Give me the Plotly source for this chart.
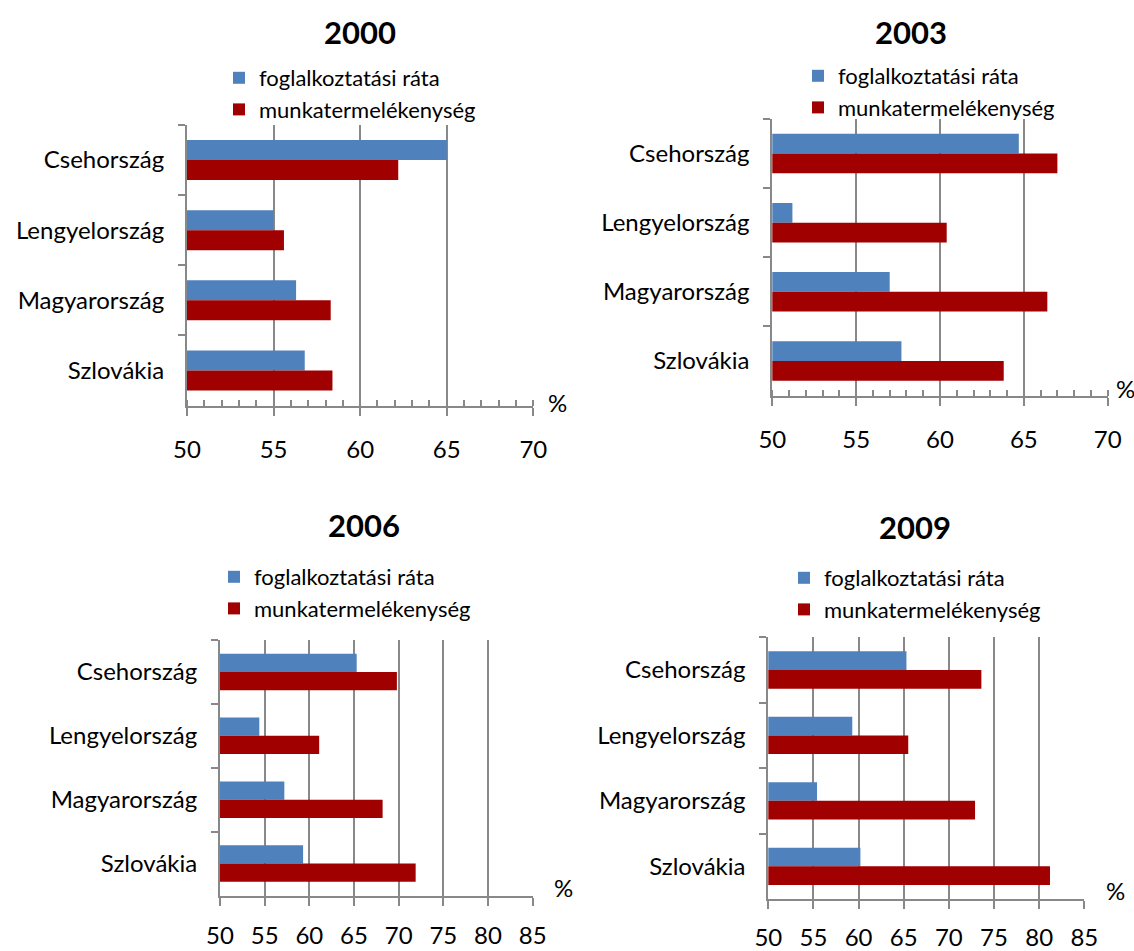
import plotly.graph_objects as go

W, H = 1134, 951
FONT = "Lato, Carlito, Calibri, sans-serif"
BLUE = "#4F81BD"
RED = "#A00000"
GRID = "#888888"

countries = ["Csehország", "Lengyelország", "Magyarország", "Szlovákia"]
series_names = ["foglalkoztatási ráta", "munkatermelékenység"]
years = ["2000", "2003", "2006", "2009"]

fogl_2000 = [65.0, 55.0, 56.3, 56.8]
munka_2000 = [62.2, 55.6, 58.3, 58.4]
fogl_2003 = [64.7, 51.2, 57.0, 57.7]
munka_2003 = [67.0, 60.4, 66.4, 63.8]
fogl_2006 = [65.3, 54.4, 57.2, 59.3]
munka_2006 = [69.8, 61.1, 68.2, 71.9]
fogl_2009 = [65.3, 59.3, 55.4, 60.2]
munka_2009 = [73.6, 65.5, 72.9, 81.2]

x_max = [70, 70, 85, 85]

# panel geometry in screen pixels: (left, right, top, bottom)
boxes = [
    (187, 533.3, 125, 405.5),
    (772.3, 1107.7, 119, 395.5),
    (220, 532.7, 640, 895.5),
    (768.3, 1084.3, 637.3, 899),
]
title_pos = [(360, 32), (911, 32), (364, 525), (915, 527)]
# legend: left of colour square, centre of first item
legend_pos = [(233, 77), (812, 75), (228, 576), (798, 577)]
pct_pos = [(557, 402), (1125, 388), (563, 887), (1115, 890)]
label_standoff = [14, 14, 10, 8]

data = [
    (fogl_2000, munka_2000),
    (fogl_2003, munka_2003),
    (fogl_2006, munka_2006),
    (fogl_2009, munka_2009),
]


def px(x):
    return x / W


def py(y):
    return 1 - y / H


fig = go.Figure()
annotations = []

for i, (fogl, munka) in enumerate(data):
    n = "" if i == 0 else str(i + 1)
    leg = "legend" if i == 0 else f"legend{i + 1}"
    for name, vals, col in [(series_names[0], fogl, BLUE), (series_names[1], munka, RED)]:
        fig.add_trace(go.Bar(
            y=countries, x=vals, orientation="h", name=name,
            marker=dict(color=col, line=dict(width=0)),
            xaxis="x" + n, yaxis="y" + n, legend=leg,
            legendgroup=name + n,
        ))

    l, r, t, b = boxes[i]
    xa = dict(
        domain=[px(l), px(r)], anchor="y" + n, range=[50, x_max[i]],
        dtick=5, tick0=50, showgrid=True, gridcolor=GRID, gridwidth=2,
        showline=True, linecolor=GRID, linewidth=2,
        ticks="outside", ticklen=8, tickcolor=GRID, tickwidth=2,
        tickfont=dict(size=24, color="black", family=FONT),
        ticklabelstandoff=label_standoff[i],
        zeroline=False, fixedrange=True, automargin=False,
    )
    if i < 2:
        xa["minor"] = dict(ticks="inside", dtick=1, ticklen=6, tickcolor=GRID,
                           tickwidth=1.5, showgrid=False)
    ya = dict(
        domain=[py(b), py(t)], anchor="x" + n, autorange="reversed",
        type="category", showline=True, linecolor=GRID, linewidth=2,
        ticks="outside", tickson="boundaries", ticklen=7, tickcolor=GRID,
        tickwidth=2, tickfont=dict(size=24, color="black", family=FONT),
        showgrid=False, ticklabelstandoff=16, automargin=False,
        fixedrange=True,
    )
    fig.update_layout(**{"xaxis" + n: xa, "yaxis" + n: ya})

    lx, ly = legend_pos[i]
    fig.update_layout(**{leg: dict(
        x=px(lx - 14), y=py(ly - 20), xanchor="left", yanchor="top",
        font=dict(size=22, color="black", family=FONT),
        bgcolor="rgba(0,0,0,0)", itemwidth=30, tracegroupgap=0,
        traceorder="normal",
    )})

    tx, ty = title_pos[i]
    annotations.append(dict(
        text=f"<b>{years[i]}</b>", x=px(tx), y=py(ty), xref="paper", yref="paper",
        xanchor="center", yanchor="middle", showarrow=False,
        font=dict(size=31, color="black", family=FONT),
    ))
    cx, cy = pct_pos[i]
    annotations.append(dict(
        text="%", x=px(cx), y=py(cy), xref="paper", yref="paper",
        xanchor="center", yanchor="middle", showarrow=False,
        font=dict(size=24, color="black", family=FONT),
    ))

fig.update_layout(
    width=W, height=H,
    margin=dict(l=0, r=0, t=0, b=0),
    paper_bgcolor="white", plot_bgcolor="white",
    barmode="group", bargap=0.43, bargroupgap=0,
    showlegend=True,
    annotations=annotations,
    font=dict(family=FONT, color="black"),
)

# drop the default body margin so the figure fills the window exactly
fig.write_html(
    "out.html",
    config={"displayModeBar": False},
    post_script="document.body.style.margin='0';document.body.style.overflow='hidden';",
)
